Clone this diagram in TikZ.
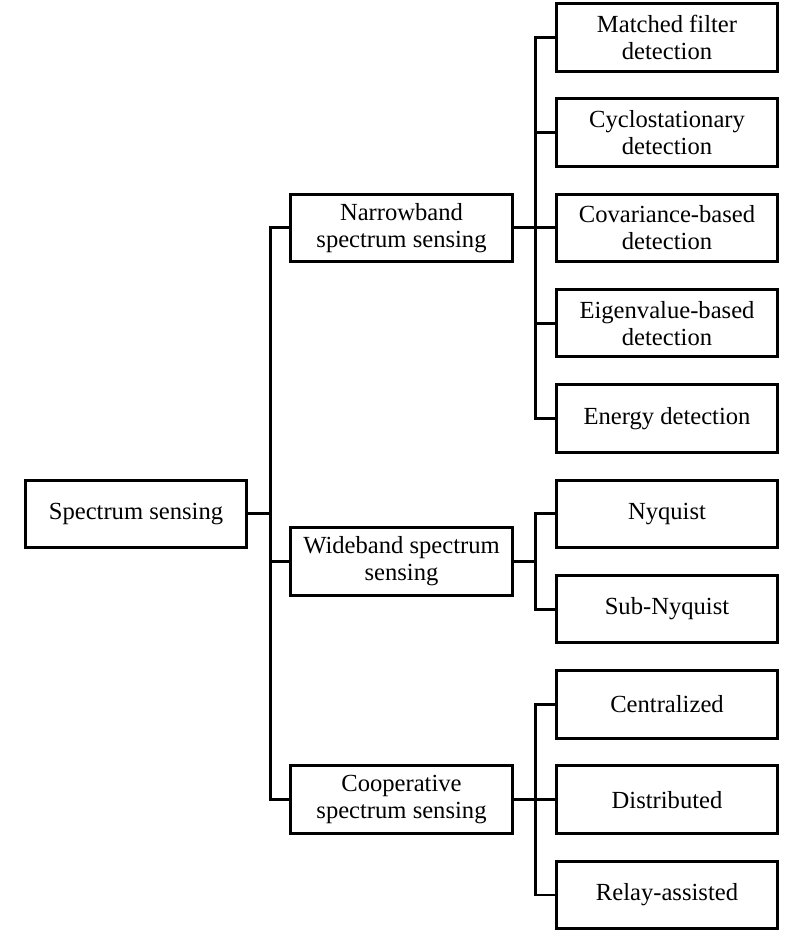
\documentclass[tikz,border=0pt]{standalone}
\usepackage{fontspec}
\setmainfont{Liberation Serif}
\usetikzlibrary{calc}

\begin{document}
\begin{tikzpicture}[x=0.03cm,y=-0.03cm,line width=2.5pt,
    box/.style={draw,rectangle,minimum width=6.65cm,minimum height=2.025cm,
      align=center,inner sep=2pt,font=\fontsize{21}{23}\selectfont}]
            \useasboundingbox (0,0) rectangle (798,935);

            % root
            \node[box] (root) at (136,513.8){Spectrum sensing};

            % middle column
            \node[box] (nb) at (401.5,227.9){Narrowband\\spectrum sensing};
            \node[box] (wb) at (401.5,561.4){Wideband spectrum\\sensing};
            \node[box] (cp) at (401.5,799.7){Cooperative\\spectrum sensing};

            % right column
            \node[box] (mf) at (667,37.3){Matched filter\\detection};
            \node[box] (cy) at (667,132.6){Cyclostationary\\detection};
            \node[box] (cv) at (667,227.9){Covariance-based\\detection};
            \node[box] (ev) at (667,323.2){Eigenvalue-based\\detection};
            \node[box] (en) at (667,418.5){Energy detection};
            \node[box] (ny) at (667,513.8){Nyquist};
            \node[box] (sn) at (667,609.1){Sub-Nyquist};
            \node[box] (ce) at (667,704.4){Centralized};
            \node[box] (di) at (667,799.7){Distributed};
            \node[box] (ra) at (667,895.0){Relay-assisted};

            % joints
            \coordinate (jr) at ($(root.east)+(21.8,0)$);
            \coordinate (jn) at ($(nb.east)+(21.8,0)$);
            \coordinate (jw) at ($(wb.east)+(21.8,0)$);
            \coordinate (jc) at ($(cp.east)+(21.8,0)$);

            \draw (root.east) -- (jr);
            \draw (nb.west) -| (jr) |- (cp.west);
            \draw (jr |- wb.west) -- (wb.west);

            \draw (nb.east) -- (jn);
            \draw (mf.west) -| (jn) |- (en.west);
            \draw (jn |- cy.west) -- (cy.west);
            \draw (jn) -- (cv.west);
            \draw (jn |- ev.west) -- (ev.west);

            \draw (wb.east) -- (jw);
            \draw (ny.west) -| (jw) |- (sn.west);

            \draw (cp.east) -- (jc);
            \draw (ce.west) -| (jc) |- (ra.west);
            \draw (jc) -- (di.west);
\end{tikzpicture}
\end{document}
